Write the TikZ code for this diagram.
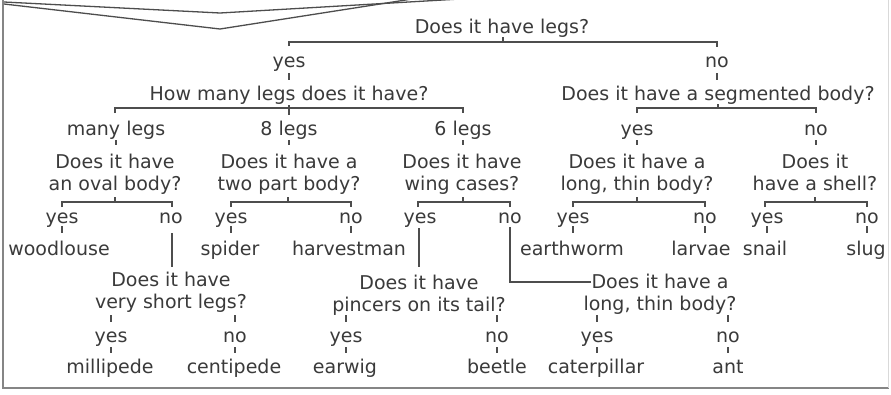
\documentclass[tikz,border=0pt]{standalone}
\usepackage{fontspec}
\setmainfont{DejaVu Sans}
\usetikzlibrary{calc}
\definecolor{txt}{HTML}{3A3A3A}
\definecolor{lnc}{HTML}{4D4D4D}
\definecolor{frm}{HTML}{858585}
\begin{document}
\begin{tikzpicture}[x=1pt,y=-1pt,
  t/.style={anchor=base,inner sep=0pt,text=txt,font=\fontsize{19}{22}\selectfont,align=center},
  conn/.style={draw=lnc,line width=1.3pt}]
\useasboundingbox (0,0) rectangle (891,394);
\fill[white] (0,0) rectangle (891,394);
% frame and banner
\draw[frm,line width=2.5pt] (3,0) -- (3,388) -- (889,388);
\draw[gray!30,line width=1pt] (888,0) -- (888,388);
\draw[conn] (4,2) -- (220,13) -- (460,-1);
\draw[conn] (4,4) -- (220,29) -- (412,-1);
% level 1
\node[t] (q1) at (502,33) {Does it have legs?};
\node[t] (a1y) at (289,67) {yes};
\node[t] (a1n) at (717,67) {no};
\node[t] (q2) at (289,100) {How many legs does it have?};
\node[t] (q3) at (718,100) {Does it have a segmented body?};
\node[t] (b2m) at (116,135) {many legs};
\node[t] (b28) at (289,135) {8 legs};
\node[t] (b26) at (463,135) {6 legs};
\node[t] (a3y) at (637,135) {yes};
\node[t] (a3n) at (816,135) {no};
\node[t] (q4) at (115,190) {Does it have\\an oval body?};
\node[t] (q5) at (289,190) {Does it have a\\two part body?};
\node[t] (q6) at (462,190) {Does it have\\wing cases?};
\node[t] (q7) at (637,190) {Does it have a\\long, thin body?};
\node[t] (q8) at (815,190) {Does it\\have a shell?};
\node[t] (a4y) at (62,223) {yes};
\node[t] (a4n) at (171,223) {no};
\node[t] (a5y) at (231,223) {yes};
\node[t] (a5n) at (351,223) {no};
\node[t] (a6y) at (420,223) {yes};
\node[t] (a6n) at (510,223) {no};
\node[t] (a7y) at (573,223) {yes};
\node[t] (a7n) at (705,223) {no};
\node[t] (a8y) at (767,223) {yes};
\node[t] (a8n) at (867,223) {no};
\node[t] (l1) at (59,255) {woodlouse};
\node[t] (l2) at (230,255) {spider};
\node[t] (l3) at (349,255) {harvestman};
\node[t] (l4) at (572,255) {earthworm};
\node[t] (l5) at (701,255) {larvae};
\node[t] (l6) at (765,255) {snail};
\node[t] (l7) at (866,255) {slug};
\node[t] (q9) at (171,308) {Does it have\\very short legs?};
\node[t] (q10) at (419,311) {Does it have\\pincers on its tail?};
\node[t] (q11) at (660,310) {Does it have a\\long, thin body?};
\node[t] (a9y) at (111,342) {yes};
\node[t] (a9n) at (235,342) {no};
\node[t] (a10y) at (346,342) {yes};
\node[t] (a10n) at (497,342) {no};
\node[t] (a11y) at (597,342) {yes};
\node[t] (a11n) at (728,342) {no};
\node[t] (l8) at (110,373) {millipede};
\node[t] (l9) at (234,373) {centipede};
\node[t] (l10) at (345,373) {earwig};
\node[t] (l11) at (497,373) {beetle};
\node[t] (l12) at (596,373) {caterpillar};
\node[t] (l13) at (728,373) {ant};
% junctions
\coordinate (j1) at (503,42);
\coordinate (j2) at (289,108);
\coordinate (j3) at (718,108);
\coordinate (j4) at (115,202);
\coordinate (j5) at (288,202);
\coordinate (j6) at (463,202);
\coordinate (j7) at (637,202);
\coordinate (j8) at (815,202);
\coordinate (e11) at (591,282);
% brackets
\draw[conn] ($(a1y.base)+(0,-21)$) |- (j1) -| ($(a1n.base)+(0,-20)$);
\draw[conn] (j1) -- ++(0,-5);
\draw[conn] ($(a1y.base)+(0,6)$) -- ++(0,7);
\draw[conn] ($(a1n.base)+(0,6)$) -- ++(0,7);
\draw[conn] ($(b2m.base)+(-1,-22)$) |- (j2) -| ($(b26.base)+(0,-22)$);
\draw[conn] ($(j2)+(0,-3)$) -- ($(b28.base)+(0,-20)$);
\draw[conn] ($(a3y.base)+(0,-22)$) |- (j3) -| ($(a3n.base)+(0,-22)$);
\draw[conn] (j3) -- ++(0,-4);
\foreach \n in {b2m,b28,b26,a3y,a3n}
  \draw[conn] ($(\n.base)+(0,5)$) -- ++(0,5);
\draw[conn] ($(a4y.base)+(0,-16)$) |- (j4) -| ($(a4n.base)+(1,-16)$);
\draw[conn] ($(a5y.base)+(0,-16)$) |- (j5) -| ($(a5n.base)+(0,-16)$);
\draw[conn] ($(a6y.base)+(-2,-16)$) |- (j6) -| ($(a6n.base)+(0,-16)$);
\draw[conn] ($(a7y.base)+(0,-16)$) |- (j7) -| ($(a7n.base)+(0,-16)$);
\draw[conn] ($(a8y.base)+(-2,-16)$) |- (j8) -| ($(a8n.base)+(0,-16)$);
\foreach \j in {j4,j5,j6,j7,j8}
  \draw[conn] (\j) -- ++(0,-5);
\foreach \n in {a4y,a5y,a5n,a7y,a7n,a8y,a8n}
  \draw[conn] ($(\n.base)+(0,3)$) -- ++(0,7);
\draw[conn] ($(a4n.base)+(1,10)$) -- ($(a4n.base)+(1,44)$);
\draw[conn] ($(a6y.base)+(-1,5)$) -- ($(a6y.base)+(-1,44)$);
\draw[conn] ($(a6n.base)+(0,4)$) |- (e11);
\foreach \n in {a9y,a9n,a10y,a10n,a11y,a11n}{
  \draw[conn] ($(\n.base)+(0,-27)$) -- ++(0,7);
  \draw[conn] ($(\n.base)+(0,5)$) -- ++(0,6);
}
\end{tikzpicture}
\end{document}
